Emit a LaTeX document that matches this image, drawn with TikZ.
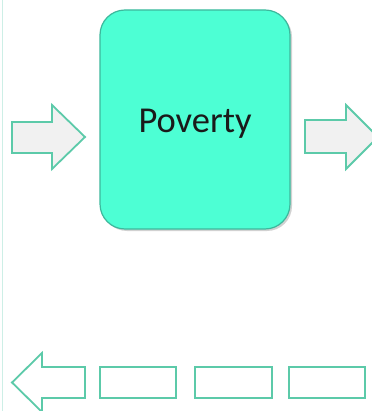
\documentclass[tikz,border=0pt]{standalone}
\usepackage{fontspec}
\setmainfont{Carlito}
\definecolor{boxfill}{HTML}{4DFFD4}
\definecolor{boxline}{HTML}{3DB89C}
\definecolor{arrfill}{HTML}{F1F1F1}
\definecolor{arrline}{HTML}{5CCAA9}
\definecolor{edgeline}{HTML}{CDEFE6}
\definecolor{txt}{HTML}{1A1A1A}
\begin{document}
\begin{tikzpicture}[x=1pt,y=-1pt,
  bigbox/.style={draw=boxline,fill=boxfill,line width=1.2pt,rounded corners=25pt},
  arrshape/.style={draw=arrline,fill=arrfill,line width=1.8pt,line join=miter},
  emptybox/.style={draw=arrline,fill=white,line width=1.8pt}]
\useasboundingbox (0,0) rectangle (371,411);
\fill[white] (0,0) rectangle (371,411);
\draw[edgeline,line width=1pt] (2.5,0) -- (2.5,411);
% main box
\fill[black!18] (102,12) [rounded corners=25pt] rectangle (292,231);
\draw[bigbox] (100,10) rectangle (290,229);
\node[text=txt] (pov) at (195,124) {\fontsize{36.5}{40}\selectfont Poverty};
% left arrow
\draw[arrshape] (12,122) -- (52,122) -- (52,105) -- (85,137) -- (52,169) -- (52,153) -- (12,153) -- cycle;
% right arrow
\draw[arrshape] (305,120) -- (346,120) -- (346,105) -- (378,137) -- (346,169) -- (346,153) -- (305,153) -- cycle;
% bottom arrow
\draw[arrshape,fill=white] (85,367) -- (42,367) -- (42,353) -- (12,382.5) -- (42,412) -- (42,398) -- (85,398) -- cycle;
% bottom boxes
\node[emptybox,minimum width=76pt,minimum height=31pt,inner sep=0pt] (r1) at (138,382.5) {};
\node[emptybox,minimum width=77pt,minimum height=31pt,inner sep=0pt] (r2) at (233.5,382.5) {};
\node[emptybox,minimum width=76pt,minimum height=31pt,inner sep=0pt] (r3) at (327,382.5) {};
\end{tikzpicture}
\end{document}
